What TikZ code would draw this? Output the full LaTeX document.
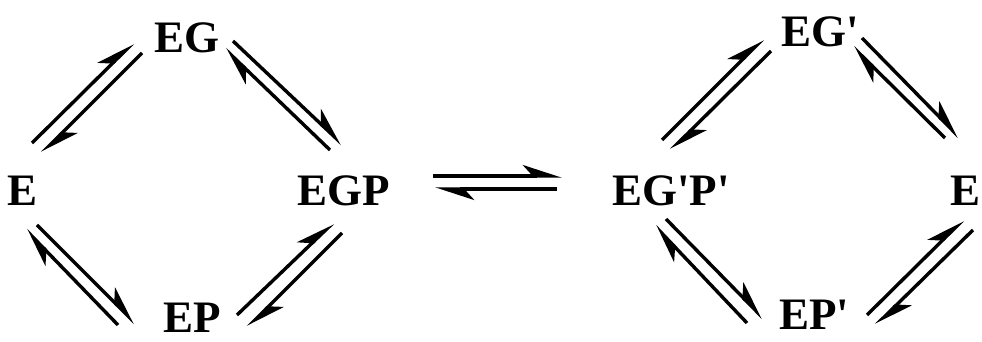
\documentclass[tikz,border=0pt]{standalone}
\usepackage{fontspec}
\setmainfont{Liberation Serif}
\usetikzlibrary{arrows.meta}

\begin{document}
\begin{tikzpicture}[
    x=0.5pt, y=-0.5pt,
    species/.style={inner sep=0pt, font=\bfseries\fontsize{22.5}{26}\selectfont},
    harp/.style={line width=1.7pt, -{Stealth[harpoon, length=17pt, width=11pt, inset=5pt]}},
]
\useasboundingbox (0,0) rectangle (982,342);

% left cycle
\node[species] (e)    at (23,191)  {E};
\node[species] (eg)   at (187,38)  {EG};
\node[species] (egp)  at (344,191) {EGP};
\node[species] (ep)   at (192,318) {EP};

% right cycle
\node[species] (egpp) at (671,191) {EG\textquotesingle P\textquotesingle};
\node[species] (egq)  at (820,32)  {EG\textquotesingle};
\node[species] (er)   at (966,191) {E};
\node[species] (epq)  at (814,315) {EP\textquotesingle};

\draw[harp] ([shift={(9,-48)}]e.center)    -- ([shift={(-54,5)}]eg.center);
\draw[harp] ([shift={(-45,15)}]eg.center)  -- ([shift={(19,-38)}]e.center);
\draw[harp] ([shift={(46,3)}]eg.center)    -- ([shift={(-2,-47)}]egp.center);
\draw[harp] ([shift={(-14,-41)}]egp.center) -- ([shift={(38,11)}]eg.center);
\draw[harp] ([shift={(14,34)}]e.center)    -- ([shift={(-57,5)}]ep.center);
\draw[harp] ([shift={(-74,7)}]ep.center)   -- ([shift={(3,39)}]e.center);
\draw[harp] ([shift={(45,-3)}]ep.center)   -- ([shift={(-11,32)}]egp.center);
\draw[harp] ([shift={(-2,42)}]egp.center)  -- ([shift={(56,9)}]ep.center);

\draw[harp] ([shift={(89,-15)}]egp.center)  -- ([shift={(-109,-15)}]egpp.center);
\draw[harp] ([shift={(-114,-2)}]egpp.center) -- ([shift={(91,-2)}]egp.center);

\draw[harp] ([shift={(-9,-51)}]egpp.center) -- ([shift={(-57,7)}]egq.center);
\draw[harp] ([shift={(-49,19)}]egq.center)  -- ([shift={(0,-41)}]egpp.center);
\draw[harp] ([shift={(42,6)}]egq.center)    -- ([shift={(-7,-54)}]er.center);
\draw[harp] ([shift={(-21,-53)}]er.center)  -- ([shift={(33,15)}]egq.center);
\draw[harp] ([shift={(-5,28)}]egpp.center)  -- ([shift={(-51,3)}]epq.center);
\draw[harp] ([shift={(-67,8)}]epq.center)   -- ([shift={(-16,35)}]egpp.center);
\draw[harp] ([shift={(53,0)}]epq.center)    -- ([shift={(-3,29)}]er.center);
\draw[harp] ([shift={(7,39)}]er.center)     -- ([shift={(62,10)}]epq.center);
\end{tikzpicture}
\end{document}
